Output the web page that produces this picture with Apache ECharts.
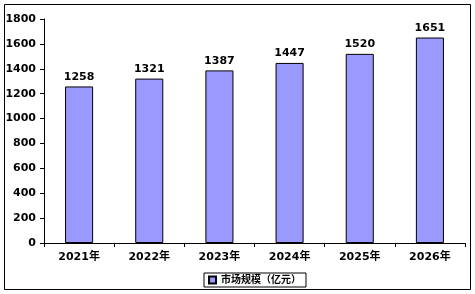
<!DOCTYPE html>
<html>
<head>
<meta charset="utf-8">
<script src="https://cdn.jsdelivr.net/npm/echarts@6/dist/echarts.min.js"></script>
<style>
  html, body { margin: 0; padding: 0; background: #fff; }
  #chart { width: 475px; height: 294px; }
</style>
</head>
<body>
<div id="chart"></div>
<script>
// 年份和市场规模
const years = ['2021年', '2022年', '2023年', '2024年', '2025年', '2026年']
const marketSize = [1258, 1321, 1387, 1447, 1520, 1651]
const seriesName = '市场规模（亿元）'

const font = '"DejaVu Sans", "Noto Sans CJK SC", sans-serif'
const chart = echarts.init(document.getElementById('chart'))

chart.setOption({
  animation: false,
  textStyle: { fontFamily: font },
  // 外框
  graphic: [{
    type: 'rect',
    shape: { x: 4.5, y: 4.5, width: 466, height: 285 },
    style: { fill: 'none', stroke: '#000', lineWidth: 1 },
    silent: true
  }],
  grid: { left: 44, right: 10, top: 19, bottom: 51 },
  legend: {
    data: [{ name: seriesName, icon: 'rect' }],
    left: 204,
    top: 273,
    itemWidth: 7,
    itemHeight: 7,
    itemGap: 4,
    padding: [2, 5, 2, 4],
    borderColor: '#000',
    borderWidth: 1,
    textStyle: { fontSize: 10, fontWeight: 'bold', color: '#000', fontFamily: font }
  },
  xAxis: {
    type: 'category',
    data: years,
    axisLine: { lineStyle: { color: '#000', width: 1 } },
    axisTick: { show: true, length: 4, lineStyle: { color: '#000' } },
    axisLabel: { color: '#000', fontSize: 11, fontWeight: 'bold', margin: 9 }
  },
  yAxis: {
    type: 'value',
    min: 0,
    max: 1800,
    interval: 200,
    splitLine: { show: false },
    axisLine: { show: true, lineStyle: { color: '#000', width: 1 } },
    axisTick: { show: true, length: 4, lineStyle: { color: '#000' } },
    axisLabel: {
      color: '#000',
      fontSize: 11,
      fontWeight: 'bold',
      margin: 8,
      formatter: v => String(v) // 不要千分位
    }
  },
  series: [{
    name: seriesName,
    type: 'bar',
    data: marketSize,
    barWidth: '40%',
    itemStyle: { color: '#9999ff', borderColor: '#000', borderWidth: 1 },
    label: {
      show: true,
      position: 'top',
      distance: 4,
      color: '#000',
      fontSize: 11,
      fontWeight: 'bold'
    }
  }]
})
</script>
</body>
</html>
